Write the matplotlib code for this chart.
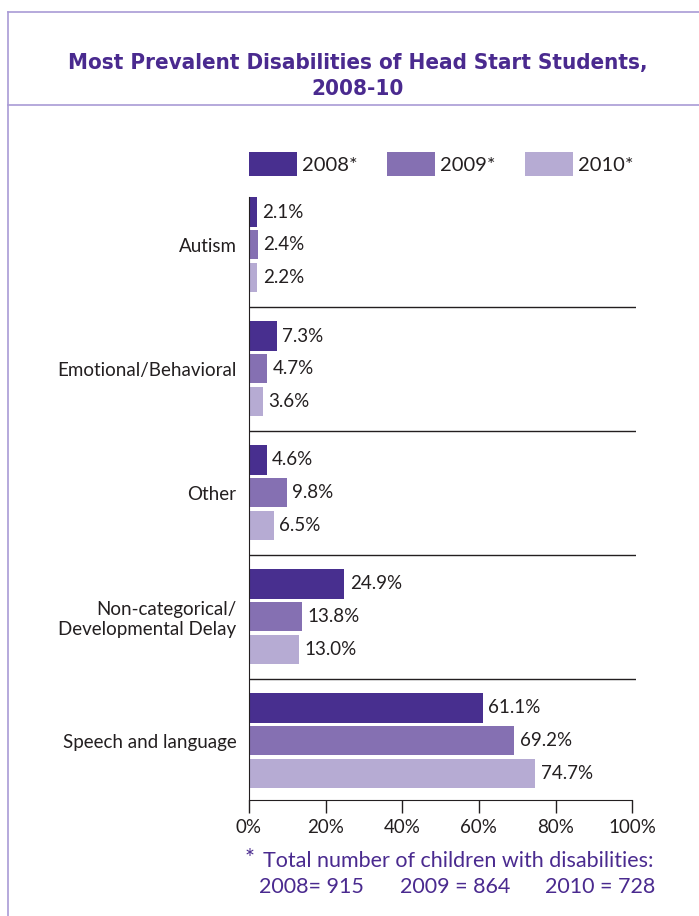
import matplotlib.pyplot as plt
from matplotlib.lines import Line2D
import numpy as np

# Data
categories = ["Autism", "Emotional/Behavioral", "Other",
              "Non-categorical/\nDevelopmental Delay", "Speech and language"]
years = ["2008*", "2009*", "2010*"]
v2008 = [2.1, 7.3, 4.6, 24.9, 61.1]
v2009 = [2.4, 4.7, 9.8, 13.8, 69.2]
v2010 = [2.2, 3.6, 6.5, 13.0, 74.7]
ticks = [0, 20, 40, 60, 80, 100]
totals = ["2008= 915", "2009 = 864", "2010 = 728"]

colors = ["#482f8f", "#8570b2", "#b6abd3"]
purple = "#4a2a8f"
dark = "#231f20"
body = ["Lato", "DejaVu Sans"]

fig = plt.figure(figsize=(6.99, 9.16), dpi=100)
W, H = 699, 916

# frame lines
frame_c = "#a99bd5"
fig.add_artist(Line2D([8 / W, 1], [1 - 12 / H] * 2, color=frame_c, lw=1.2))
fig.add_artist(Line2D([8 / W, 1], [1 - 105 / H] * 2, color=frame_c, lw=1.2))
fig.add_artist(Line2D([8 / W] * 2, [0, 1 - 12 / H], color=frame_c, lw=1.2))

fig.text(358 / W, 1 - 76 / H, "Most Prevalent Disabilities of Head Start Students,\n2008-10",
         ha="center", va="center", color=purple, fontsize=16, fontweight="bold",
         fontstretch="condensed", family=["DejaVu Sans"], linespacing=1.4)

ax = fig.add_axes([249 / W, 1 - 800 / H, 387 / W, 603 / H])
y = np.arange(len(categories))
bh = 0.234
off = 0.266
series = [v2008, v2009, v2010]
for k, vals in enumerate(series):
    bars = ax.barh(y + (k - 1) * off, vals, height=bh, color=colors[k], label=years[k])
    for b, v in zip(bars, vals):
        ax.text(v + 1.4, b.get_y() + b.get_height() / 2, f"{v:.1f}%", va="center",
                ha="left", fontsize=13.5, color=dark, family=body)

for i in range(len(categories) - 1):
    ax.axhline(i + 0.5, color=dark, lw=1)

ax.set_xlim(0, 101)
ax.set_ylim(4.476, -0.387)
ax.set_xticks(ticks)
ax.set_xticklabels([f"{t}%" for t in ticks], fontsize=13.5, color=dark, family=body)
ax.set_yticks(y)
ax.set_yticklabels(categories, fontsize=13.5, color=dark, family=body, ha="right",
                   multialignment="right")
ax.tick_params(axis="y", length=0, pad=9)
ax.tick_params(axis="x", length=9, width=1, color=dark, pad=5)
for s in ["top", "right"]:
    ax.spines[s].set_visible(False)
ax.spines["bottom"].set_bounds(0, 100)
ax.spines["left"].set_color(dark)
ax.spines["bottom"].set_color(dark)

leg = ax.legend(ncol=3, loc="lower left", bbox_to_anchor=(0, 1.035), frameon=False,
                handlelength=2.39, handleheight=1.44, handletextpad=0.25,
                columnspacing=1.45, borderpad=0, borderaxespad=0,
                prop={"family": body, "size": 14.5})
for t in leg.get_texts():
    t.set_color(dark)

fig.text(245 / W, 1 - 858 / H, "*", color=purple, fontsize=17, family=body, va="center")
fig.text(263 / W, 1 - 861 / H, "Total number of children with disabilities:",
         color=purple, fontsize=15.5, family=body, va="center")
for x0, s in zip([259, 400, 545], totals):
    fig.text(x0 / W, 1 - 887 / H, s, color=purple, fontsize=15.5, family=body, va="center")

fig.savefig("out.png", dpi=100)
